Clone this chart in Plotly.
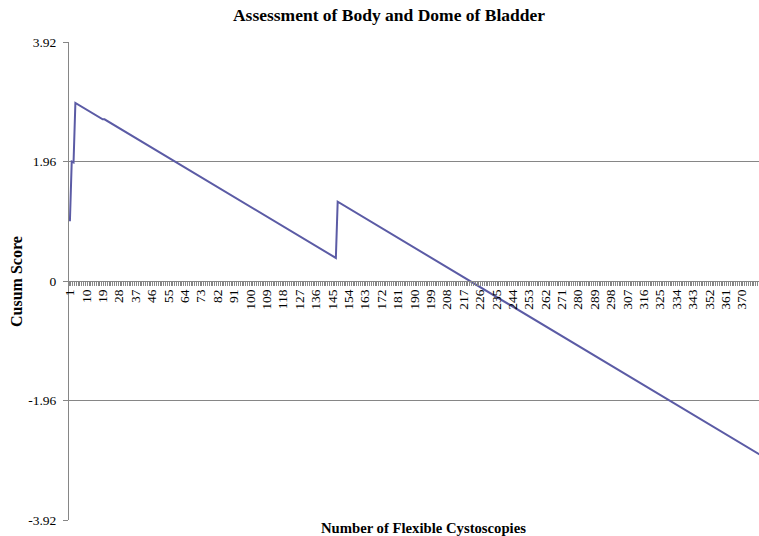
import plotly.graph_objects as go

# Case numbers (categories) and tick labels
case_numbers = list(range(1, 390))
tick_labels = case_numbers[::9]

# CUSUM score at the vertices of the polyline
vertex_cases = [1, 2, 3, 4, 19, 20, 147, 148, 389]
cusum_scores = [0.98, 1.96, 1.945, 2.92, 2.651, 2.651, 0.378, 1.30, -3.014]

y_ticks = [-3.92, -1.96, 0, 1.96, 3.92]
y_tick_text = ["-3.92", "-1.96", "0", "1.96", "3.92"]

FONT = "'Liberation Serif', 'Times New Roman', serif"
GRAY = "#868686"
LINE = "#5B5BA5"

fig = go.Figure()
fig.add_trace(go.Scatter(
    x=vertex_cases, y=cusum_scores, mode="lines",
    line=dict(color=LINE, width=2), showlegend=False, hoverinfo="skip"))

fig.update_layout(
    width=759, height=536,
    margin=dict(l=69, r=0, t=42, b=16),
    paper_bgcolor="white", plot_bgcolor="white",
    font=dict(family=FONT, size=13, color="black"),
    title=dict(text="<b>Assessment of Body and Dome of Bladder</b>",
               x=389/759, xref="container", xanchor="center",
               y=1-15/536, yref="container", yanchor="middle",
               font=dict(family=FONT, size=17.5, color="black")),
    xaxis=dict(
        range=[0.5, 379.3], anchor="free", position=0.5,
        showline=True, linecolor=GRAY, linewidth=1,
        showgrid=False, zeroline=False,
        tickmode="array", tickvals=tick_labels,
        ticktext=[str(v) for v in tick_labels],
        ticks="", tickangle=-90, ticklabelstandoff=2,
        tickfont=dict(family=FONT, size=13.5, color="black"),
        minor=dict(tickmode="linear", tick0=0.5, dtick=1, ticks="outside",
                   ticklen=4, tickcolor=GRAY, tickwidth=1, showgrid=False),
    ),
    yaxis=dict(
        range=[-3.92, 3.92], domain=[0, 1],
        showline=True, linecolor=GRAY, linewidth=1,
        showgrid=True, gridcolor=GRAY, gridwidth=1, zeroline=False,
        tickmode="array", tickvals=y_ticks, ticktext=y_tick_text,
        ticks="outside", ticklen=5, tickcolor=GRAY,
        ticklabelstandoff=4,
        tickfont=dict(family=FONT, size=13.5, color="black"),
    ),
    annotations=[
        dict(text="<b>Cusum Score</b>", textangle=-90,
             xref="paper", yref="paper", x=(16-69)/690, y=0.5,
             xanchor="center", yanchor="middle", showarrow=False,
             font=dict(family=FONT, size=16, color="black")),
        dict(text="<b>Number of Flexible Cystoscopies</b>",
             xref="paper", yref="paper", x=(424-69)/690, y=(520-528)/478,
             xanchor="center", yanchor="middle", showarrow=False,
             font=dict(family=FONT, size=14.7, color="black")),
    ],
)

fig.write_html("out.html", config={"displayModeBar": False},
               post_script="document.body.style.margin='0';")
